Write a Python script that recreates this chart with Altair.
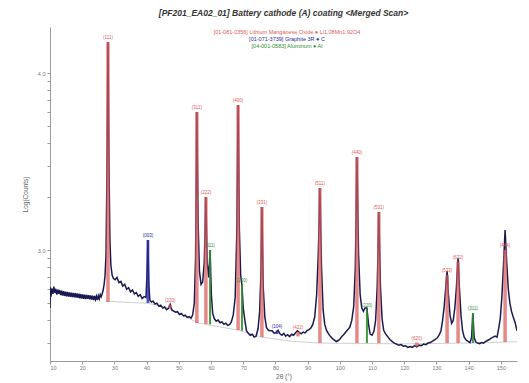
import altair as alt
import pandas as pd

# ---- measured scan (2-theta in degrees, intensity in counts) ----
two_theta = [
    10.0, 10.15, 10.3, 10.6, 10.9, 11.2, 11.5, 11.8, 12.1, 12.4, 12.7, 13.0, 13.3, 13.6, 13.9,
    14.2, 14.5, 14.8, 15.1, 15.4, 15.7, 16.0, 16.3, 16.6, 16.9, 17.2, 17.5, 17.8, 18.1, 18.4,
    18.7, 19.0, 19.3, 19.6, 19.9, 20.2, 20.5, 20.8, 21.1, 21.4, 21.7, 22.0, 22.3, 22.6, 22.9,
    23.2, 23.5, 23.8, 24.1, 24.4, 24.7, 25.0, 25.3, 25.6, 25.9, 26.2, 26.5, 26.8, 27.1, 27.4,
    27.7, 28.0, 28.3, 28.6, 28.9, 29.3, 29.7, 30.2, 30.8, 31.4, 32.0, 32.6, 33.2, 33.8, 34.4,
    35.0, 35.6, 36.2, 36.8, 37.4, 38.0, 38.6, 39.2, 39.8, 40.1, 40.4, 40.7, 41.0, 41.5, 42.0,
    42.6, 43.2, 43.8, 44.4, 45.0, 45.6, 46.2, 46.8, 47.3, 47.8, 48.4, 49.0, 49.6, 50.2, 50.8,
    51.4, 52.0, 52.6, 53.2, 53.8, 54.3, 54.8, 55.2, 55.6, 56.0, 56.4, 56.9, 57.4, 57.9, 58.4,
    58.8, 59.3, 59.7, 60.1, 60.5, 61.0, 61.6, 62.2, 62.8, 63.4, 64.0, 64.6, 65.2, 65.8, 66.3,
    66.9, 67.5, 68.0, 68.4, 68.8, 69.2, 69.6, 70.0, 70.5, 71.0, 71.6, 72.2, 72.8, 73.4, 74.0,
    74.6, 75.1, 75.5, 75.8, 76.2, 76.7, 77.2, 77.8, 78.4, 79.0, 79.6, 80.2, 80.8, 81.4, 82.0,
    82.6, 83.2, 83.8, 84.4, 85.0, 85.6, 86.2, 86.8, 87.4, 88.0, 88.6, 89.2, 89.8, 90.4, 91.0,
    91.6, 92.2, 92.8, 93.3, 93.8, 94.3, 94.8, 95.3, 95.9, 96.5, 97.1, 97.7, 98.3, 98.9, 99.5,
    100.1, 100.7, 101.3, 101.9, 102.5, 103.1, 103.7, 104.3, 104.8, 105.3, 105.8, 106.3, 106.8, 107.3, 107.8,
    108.4, 108.9, 109.4, 110.0, 110.6, 111.1, 111.6, 112.1, 112.6, 113.1, 113.6, 114.2, 114.8, 115.5, 116.2,
    116.9, 117.6, 118.3, 119.0, 119.7, 120.4, 121.1, 121.8, 122.5, 123.2, 123.9, 124.6, 125.3, 126.0, 126.7,
    127.4, 128.1, 128.8, 129.5, 130.2, 130.8, 131.4, 131.9, 132.4, 132.9, 133.3, 133.7, 134.2, 134.7, 135.2,
    135.7, 136.2, 136.7, 137.1, 137.6, 138.1, 138.6, 139.2, 139.8, 140.4, 140.9, 141.3, 141.7, 142.2, 142.8,
    143.4, 144.0, 144.6, 145.2, 145.8, 146.4, 147.0, 147.6, 148.2, 148.8, 149.3, 149.8, 150.3, 150.8, 151.3,
    151.8, 152.3, 152.8, 153.3, 153.8, 154.4, 155.0,
]
counts = [
    470, 615, 545, 605, 565, 622, 572, 604, 560, 598, 565, 594, 556, 590, 552,
    586, 550, 582, 548, 580, 546, 576, 544, 574, 542, 572, 540, 570, 538, 568,
    536, 566, 534, 564, 532, 562, 530, 560, 528, 558, 530, 556, 526, 554, 524,
    552, 522, 550, 524, 548, 522, 552, 530, 560, 545, 566, 592, 640, 720, 950,
    3000, 14966, 3200, 1150, 820, 720, 690, 680, 700, 655, 665, 625, 640, 600, 612,
    580, 595, 565, 575, 548, 560, 532, 545, 540, 720, 1139, 640, 520, 508, 515,
    495, 500, 482, 488, 470, 476, 460, 468, 492, 458, 452, 445, 448, 432, 438,
    424, 428, 416, 420, 412, 430, 500, 900, 6025, 1400, 760, 640, 660, 850, 1992,
    850, 700, 1000, 560, 440, 410, 396, 402, 388, 392, 380, 386, 375, 380, 392,
    430, 540, 1250, 6597, 1300, 720, 634, 470, 400, 350, 338, 330, 334, 322, 326,
    360, 450, 750, 1750, 620, 420, 365, 352, 350, 350, 338, 342, 352, 336, 330,
    338, 326, 332, 324, 334, 330, 340, 350, 342, 336, 344, 340, 350, 355, 362,
    380, 420, 560, 950, 2240, 800, 460, 380, 350, 336, 324, 316, 310, 304, 308,
    315, 326, 334, 345, 355, 367, 400, 480, 800, 3352, 950, 560, 470, 450, 470,
    470, 380, 335, 330, 348, 400, 620, 1640, 620, 410, 352, 336, 325, 312, 305,
    298, 294, 290, 292, 286, 288, 282, 285, 282, 288, 284, 290, 288, 294, 292,
    298, 300, 306, 312, 318, 330, 350, 400, 480, 620, 760, 560, 430, 385, 400,
    470, 620, 900, 620, 430, 350, 322, 310, 305, 300, 320, 440, 320, 302, 298,
    296, 300, 298, 304, 308, 312, 318, 322, 326, 322, 360, 410, 540, 820, 1297,
    850, 600, 500, 450, 420, 390, 350,
]

# ---- fitted background ----
bg_theta = [27.3, 35.0, 40.4, 47.0, 52.0, 56.0, 60.0, 68.4, 75.8, 85.0, 93.8, 120.0, 140.0, 152.0, 155.0]
bg_counts = [515, 505, 500, 470, 420, 387, 375, 353, 322, 305, 298, 295, 298, 302, 303]

# ---- reference pattern sticks ----
phase_names = [
    "[01-081-0356] Lithium Manganese Oxide \u25cf Li1.08Mn1.92O4",
    "[01-071-3739] Graphite 3R \u25cf C",
    "[04-001-0583] Aluminum \u25cf Al",
]
phase_colors = ["#dc5a5a", "#2b2ba0", "#2e8f2e"]
stick_width = [3.5, 2.0, 2.2]
stick_opacity = [0.72, 0.9, 0.85]

stick_phase = [0] * 14 + [1] * 2 + [2] * 4
stick_theta = [28.0, 47.3, 55.6, 58.4, 68.4, 75.8, 87.0, 93.8, 105.3, 112.1, 123.9, 133.3, 136.7, 151.3,
               40.4, 80.5,
               59.7, 69.6, 108.4, 141.3]
stick_top = [14966, 490, 6025, 1992, 6597, 1750, 345, 2240, 3352, 1640, 300, 722, 860, 1000,
             1139, 350,
             1000, 634, 458, 441]
stick_base = [508, 470, 387, 382, 353, 322, 325, 298, 298, 298, 285, 298, 298, 302,
              502, 335,
              380, 350, 298, 298]
stick_hkl = ["(111)", "(220)", "(311)", "(222)", "(400)", "(331)", "(422)", "(511)", "(440)", "(531)",
             "(620)", "(533)", "(622)", "(444)",
             "(003)", "(104)",
             "(111)", "(200)", "(220)", "(311)"]

title_text = "[PF201_EA02_01] Battery cathode (A) coating <Merged Scan>"
x_ticks = [10, 20, 30, 40, 50, 60, 70, 80, 90, 100, 110, 120, 130, 140, 150]
y_ticks = [300, 400, 500, 600, 700, 800, 900, 1000, 2000, 3000, 4000, 5000, 6000, 7000, 8000, 9000, 10000]

FONT = "Liberation Sans"

scan = pd.DataFrame({"tt": two_theta, "c": counts})
bg = pd.DataFrame({"tt": bg_theta, "c": bg_counts})
sticks = pd.DataFrame({
    "tt": stick_theta,
    "c": stick_top,
    "c0": stick_base,
    "hkl": stick_hkl,
    "phase": [phase_names[i] for i in stick_phase],
})

xscale = alt.Scale(domain=[10, 155], nice=False, zero=False)
yscale = alt.Scale(type="log", domain=[236, 18200], nice=False)
xaxis = alt.Axis(values=x_ticks, title="2\u03b8 (\u00b0)", grid=False, domainColor="#9a9a9a",
                 tickColor="#9a9a9a", tickSize=3, labelFontSize=5.5, labelColor="#777777",
                 labelPadding=1, titleFontSize=6.5, titleFontWeight="normal", titleColor="#666666",
                 titlePadding=3, labelFont=FONT, titleFont=FONT)
yaxis = alt.Axis(values=y_ticks, title="Log(Counts)", grid=False, domainColor="#9a9a9a",
                 tickColor="#9a9a9a", tickSize=3, labelFontSize=5.5, labelColor="#777777",
                 labelPadding=2, titleFontSize=6.5, titleFontWeight="normal", titleColor="#666666",
                 titlePadding=9, labelFont=FONT, titleFont=FONT,
                 labelExpr="datum.value == 1000 ? '3.0' : (datum.value == 10000 ? '4.0' : '')")

X = alt.X("tt:Q", scale=xscale, axis=xaxis)
Y = alt.Y("c:Q", scale=yscale, axis=yaxis)

phase_color = alt.Color("phase:N", scale=alt.Scale(domain=phase_names, range=phase_colors), legend=None)

bg_line = alt.Chart(bg).mark_line(color="#c4c4c4", strokeWidth=0.8, clip=True).encode(x=X, y=Y)
scan_line = alt.Chart(scan).mark_line(color="#1a1a50", strokeWidth=1.5, clip=True).encode(x=X, y=Y)

stick_rules = alt.Chart(sticks).mark_rule(clip=True).encode(
    x=X, y=Y, y2="c0:Q",
    color=phase_color,
    size=alt.Size("phase:N", scale=alt.Scale(domain=phase_names, range=stick_width), legend=None),
    opacity=alt.Opacity("phase:N", scale=alt.Scale(domain=phase_names, range=stick_opacity), legend=None),
)
stick_labels = alt.Chart(sticks).mark_text(fontSize=4.5, baseline="bottom", dy=-2, font=FONT).encode(
    x=X, y=Y, text="hkl:N", color=phase_color,
)

legend_layers = []
for i, name in enumerate(phase_names):
    legend_layers.append(
        alt.Chart(pd.DataFrame({"t": [name]})).mark_text(
            fontSize=5.5, font=FONT, color=phase_colors[i], align="center", baseline="middle"
        ).encode(x=alt.value(237), y=alt.value(5 + 7 * i), text="t:N")
    )

chart = alt.layer(bg_line, scan_line, stick_rules, stick_labels, *legend_layers).properties(
    width=467,
    height=334,
    title=alt.TitleParams(title_text, fontSize=8.5, fontStyle="italic", fontWeight="bold",
                          font=FONT, color="#333333", anchor="middle", offset=10),
    autosize=alt.AutoSizeParams(type="none"),
    padding={"left": 42, "top": 19, "right": 4, "bottom": 22},
).configure_view(stroke=None)

chart.save("out.html", embed_options={"renderer": "svg", "actions": False})
